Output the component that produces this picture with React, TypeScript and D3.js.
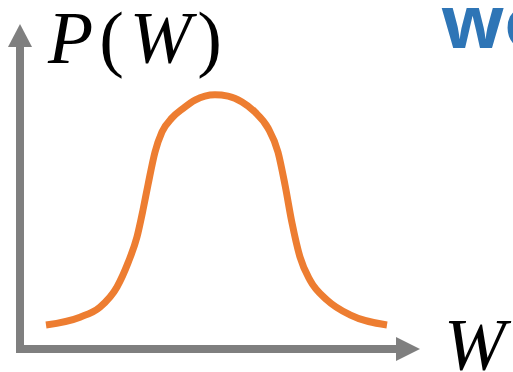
import React from "react";
import * as d3 from "d3";

// Sketch of a bell-shaped distribution P(W) along a W axis.
const curveX = [6.5, 15, 20, 24.25, 27, 29.25, 30.75, 32, 33.75, 35.5, 38, 40.75, 43.75, 48.75, 52, 55.5, 58.75, 62, 64.5, 66.25, 68, 70, 72.5, 76.75, 82.5, 91.75];
const curveY = [7.4, 9.8, 12.9, 19.1, 26.5, 34.5, 42.8, 50.5, 60.6, 66.8, 71.1, 74.0, 76.6, 78.2, 77.8, 76, 72.9, 68, 60.6, 50.5, 38.8, 28.3, 21.2, 15.1, 10.5, 7.4];
const yLabel = "P(W)";
const xLabel = "W";
const cornerText = "wo";

const W = 513;
const H = 372;

export default function App() {
  const x = d3.scaleLinear().domain([0, 100]).range([20, 420]);
  const y = d3.scaleLinear().domain([0, 100]).range([349, 24]);

  const pts: [number, number][] = curveX.map((v, i) => [v, curveY[i]]);
  const line = d3
    .line<[number, number]>()
    .x((d) => x(d[0]))
    .y((d) => y(d[1]))
    .curve(d3.curveMonotoneX);

  const axisColor = "#7F7F7F";
  const x0 = x(0);
  const y0 = y(0);
  const yTop = y(100);
  const xEnd = x(100);

  return (
    <svg
      width={W}
      height={H}
      style={{ position: "absolute", left: 0, top: 0, background: "#fff" }}
    >
      {/* vertical axis with arrow */}
      <line x1={x0} x2={x0} y1={y0 + 4} y2={yTop + 22} stroke={axisColor} strokeWidth={8} />
      <path d={`M${x0 - 12},${yTop + 23} L${x0},${yTop} L${x0 + 12},${yTop + 23} Z`} fill={axisColor} />
      {/* horizontal axis with arrow */}
      <line x1={x0 - 4} x2={xEnd - 23} y1={y0} y2={y0} stroke={axisColor} strokeWidth={8} />
      <path d={`M${xEnd - 24},${y0 - 12} L${xEnd},${y0} L${xEnd - 24},${y0 + 12} Z`} fill={axisColor} />

      <path d={line(pts) ?? ""} fill="none" stroke="#ED7D31" strokeWidth={7} strokeLinecap="butt" strokeLinejoin="round" />

      <text
        x={48}
        y={63}
        fontFamily="'Liberation Serif', serif"
        fontSize={74}
        textLength={174}
        lengthAdjust="spacing"
        fill="#000"
      >
        {yLabel.split("").map((c, i) => (
          <tspan key={i} fontStyle={/[A-Za-z]/.test(c) ? "italic" : "normal"}>
            {c}
          </tspan>
        ))}
      </text>
      <text
        x={444}
        y={370}
        fontFamily="'Liberation Serif', serif"
        fontStyle="italic"
        fontSize={74}
        fill="#000"
      >
        {xLabel}
      </text>
      <text
        x={441}
        y={48}
        fontFamily="'Open Sans', sans-serif"
        fontWeight="bold"
        fontSize={74}
        fill="#2E75B6"
      >
        {cornerText}
      </text>
    </svg>
  );
}
